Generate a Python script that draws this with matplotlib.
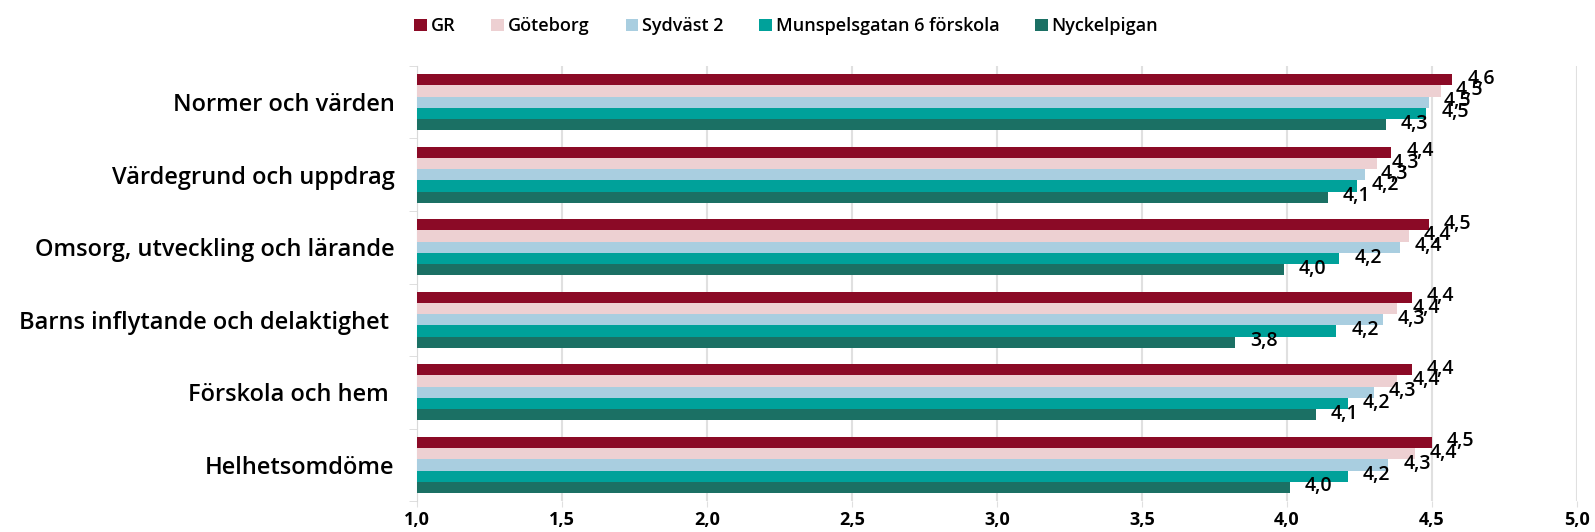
import matplotlib.pyplot as plt
import numpy as np

# categories (top to bottom) and series
categories = ['Normer och värden', 'Värdegrund och uppdrag', 'Omsorg, utveckling och lärande',
              'Barns inflytande och delaktighet ', 'Förskola och hem ', 'Helhetsomdöme']
series_names = ['GR', 'Göteborg', 'Sydväst 2', 'Munspelsgatan 6 förskola', 'Nyckelpigan']
gr = [4.57, 4.36, 4.49, 4.43, 4.43, 4.50]
goteborg = [4.53, 4.31, 4.42, 4.38, 4.38, 4.44]
sydvast = [4.49, 4.27, 4.39, 4.33, 4.30, 4.35]
munspels = [4.48, 4.24, 4.18, 4.17, 4.21, 4.21]
nyckelpigan = [4.34, 4.14, 3.99, 3.82, 4.10, 4.01]
colors = ['#8b0a26', '#edd0d2', '#a9cee0', '#00a19a', '#1b7064']
xticks = [1.0, 1.5, 2.0, 2.5, 3.0, 3.5, 4.0, 4.5, 5.0]

plt.rcParams['font.family'] = ['Open Sans', 'DejaVu Sans']

fig = plt.figure(figsize=(15.95, 5.32), dpi=100, facecolor='white')
ax = fig.add_axes([0.2614, 0.058, 0.7273, 0.818])

values = [gr, goteborg, sydvast, munspels, nyckelpigan]
y = np.arange(len(categories))
bar_h = 0.155
for i, (name, vals, col) in enumerate(zip(series_names, values, colors)):
    pos = y - 2 * bar_h + i * bar_h
    ax.barh(pos, np.array(vals) - 1.0, left=1.0, height=bar_h, color=col, label=name, zorder=3)
    # value labels next to the bar ends
    for p, v in zip(pos, vals):
        ax.annotate(f'{v:.1f}'.replace('.', ','), xy=(v, p), xytext=(15, 1),
                    textcoords='offset pixels', va='center', ha='left',
                    fontsize=14, fontweight='semibold', color='black', zorder=4)

ax.set_xlim(1.0, 5.0)
ax.set_ylim(len(categories) - 0.5, -0.5)
ax.set_xticks(xticks)
ax.set_xticklabels([f'{t:.1f}'.replace('.', ',') for t in xticks], fontsize=13, fontweight='bold')
ax.set_yticks(y)
ax.set_yticklabels(categories, fontsize=17, fontweight='semibold')
ax.set_yticks(np.arange(len(categories) + 1) - 0.5, minor=True)
ax.tick_params(axis='y', which='major', length=0, pad=16)
ax.tick_params(axis='y', which='minor', length=6, color='#d9d9d9', direction='out')
ax.tick_params(axis='x', length=4, color='#e0e0e0', pad=3)

ax.grid(axis='x', color='#e0e0e0', linewidth=1.5, zorder=0)
for s in ['top', 'right', 'bottom']:
    ax.spines[s].set_visible(False)
ax.spines['left'].set_color('#d9d9d9')

fig.legend(loc='upper center', bbox_to_anchor=(0.493, 0.998), ncol=5, frameon=False,
           handlelength=0.7, handleheight=0.7, handletextpad=0.2, columnspacing=2.0,
           prop={'size': 13, 'weight': 'semibold'})

fig.savefig('out.png', dpi=100, facecolor='white')
